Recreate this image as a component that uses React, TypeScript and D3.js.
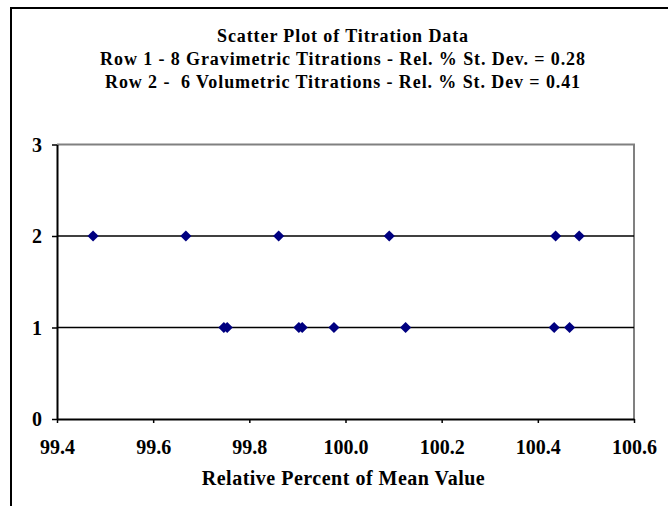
import { useEffect, useRef } from 'react';
import * as d3 from 'd3';

// relative percent of mean value, one array per titration row
const row1Gravimetric = [99.747, 99.754, 99.903, 99.91, 99.976, 100.125, 100.434, 100.466];
const row2Volumetric = [99.475, 99.668, 99.861, 100.091, 100.437, 100.486];
const xTicks = [99.4, 99.6, 99.8, 100.0, 100.2, 100.4, 100.6];
const yTicks = [0, 1, 2, 3];
const gridRows = [1, 2];
const titleLines = [
  'Scatter Plot of Titration Data',
  'Row 1 - 8 Gravimetric Titrations - Rel. % St. Dev. = 0.28',
  'Row 2 -  6 Volumetric Titrations - Rel. % St. Dev = 0.41',
];
const xTitle = 'Relative Percent of Mean Value';

export default function App() {
  const svgRef = useRef<SVGSVGElement>(null);

  useEffect(() => {
    const svg = d3.select(svgRef.current);
    const width = 668;
    const height = 506;
    const plot = { left: 57, right: 634, top: 144.5, bottom: 419 };
    const font = '"Liberation Serif", "Times New Roman", serif';

    svg.selectAll('*').remove();

    // chart area frame (runs off the right and bottom of the picture)
    svg.append('rect')
      .attr('x', 11).attr('y', 8)
      .attr('width', width + 20).attr('height', height + 20)
      .attr('fill', '#fff').attr('stroke', '#000').attr('stroke-width', 2);

    const x = d3.scaleLinear().domain([99.4, 100.6]).range([plot.left, plot.right]);
    const y = d3.scaleLinear().domain([0, 3]).range([plot.bottom, plot.top]);

    // title
    svg.append('g')
      .selectAll('text')
      .data(titleLines)
      .enter()
      .append('text')
      .attr('x', 343)
      .attr('y', (d, i) => 42 + i * 23)
      .attr('text-anchor', 'middle')
      .attr('font-family', font)
      .attr('font-weight', 'bold')
      .attr('font-size', 18)
      .attr('letter-spacing', 0.9)
      .style('white-space', 'pre')
      .text((d) => d);

    // plot border: top and right grey
    svg.append('path')
      .attr('d', `M${plot.left},${plot.top}H${plot.right}V${plot.bottom}`)
      .attr('fill', 'none').attr('stroke', '#808080').attr('stroke-width', 2);

    // gridlines
    svg.append('g')
      .selectAll('line')
      .data(gridRows)
      .enter()
      .append('line')
      .attr('x1', plot.left).attr('x2', plot.right)
      .attr('y1', (d) => y(d)).attr('y2', (d) => y(d))
      .attr('stroke', '#000').attr('stroke-width', 1.5);

    // axes
    const xAxis = svg.append('g')
      .attr('transform', `translate(0, ${plot.bottom})`)
      .call(d3.axisBottom(x).tickValues(xTicks).tickFormat(d3.format('.1f')).tickSizeInner(4).tickSizeOuter(0));
    const yAxis = svg.append('g')
      .attr('transform', `translate(${plot.left}, 0)`)
      .call(d3.axisLeft(y).tickValues(yTicks).tickFormat(d3.format('d')).tickSizeInner(5).tickSizeOuter(0).tickPadding(10));

    [xAxis, yAxis].forEach((g) => {
      g.select('.domain').attr('stroke', '#000').attr('stroke-width', 2);
      g.selectAll('.tick line').attr('stroke', '#000').attr('stroke-width', 1.5);
      g.selectAll('.tick text')
        .attr('fill', '#000')
        .attr('font-family', font)
        .attr('font-weight', 'bold')
        .attr('font-size', 20);
    });
    xAxis.selectAll('.tick text').attr('y', 35).attr('dy', 0);
    yAxis.selectAll('.tick text').attr('dy', '0.34em');

    // x axis title
    svg.append('text')
      .attr('x', 343.5)
      .attr('y', 485)
      .attr('text-anchor', 'middle')
      .attr('font-family', font)
      .attr('font-weight', 'bold')
      .attr('font-size', 20)
      .attr('letter-spacing', 0.5)
      .text(xTitle);

    // diamond markers
    const diamond = d3.symbol().type(d3.symbolSquare).size(62);
    const points = [
      ...row1Gravimetric.map((v) => ({ v, row: 1 })),
      ...row2Volumetric.map((v) => ({ v, row: 2 })),
    ];
    svg.append('g')
      .selectAll('path')
      .data(points)
      .enter()
      .append('path')
      .attr('d', diamond)
      .attr('transform', (d) => `translate(${x(d.v)},${y(d.row)}) rotate(45)`)
      .attr('fill', '#000080');
  }, []);

  return (
    <svg
      ref={svgRef}
      width="668"
      height="506"
      style={{ position: 'absolute', left: 0, top: 0, background: '#fff' }}
    />
  );
}
